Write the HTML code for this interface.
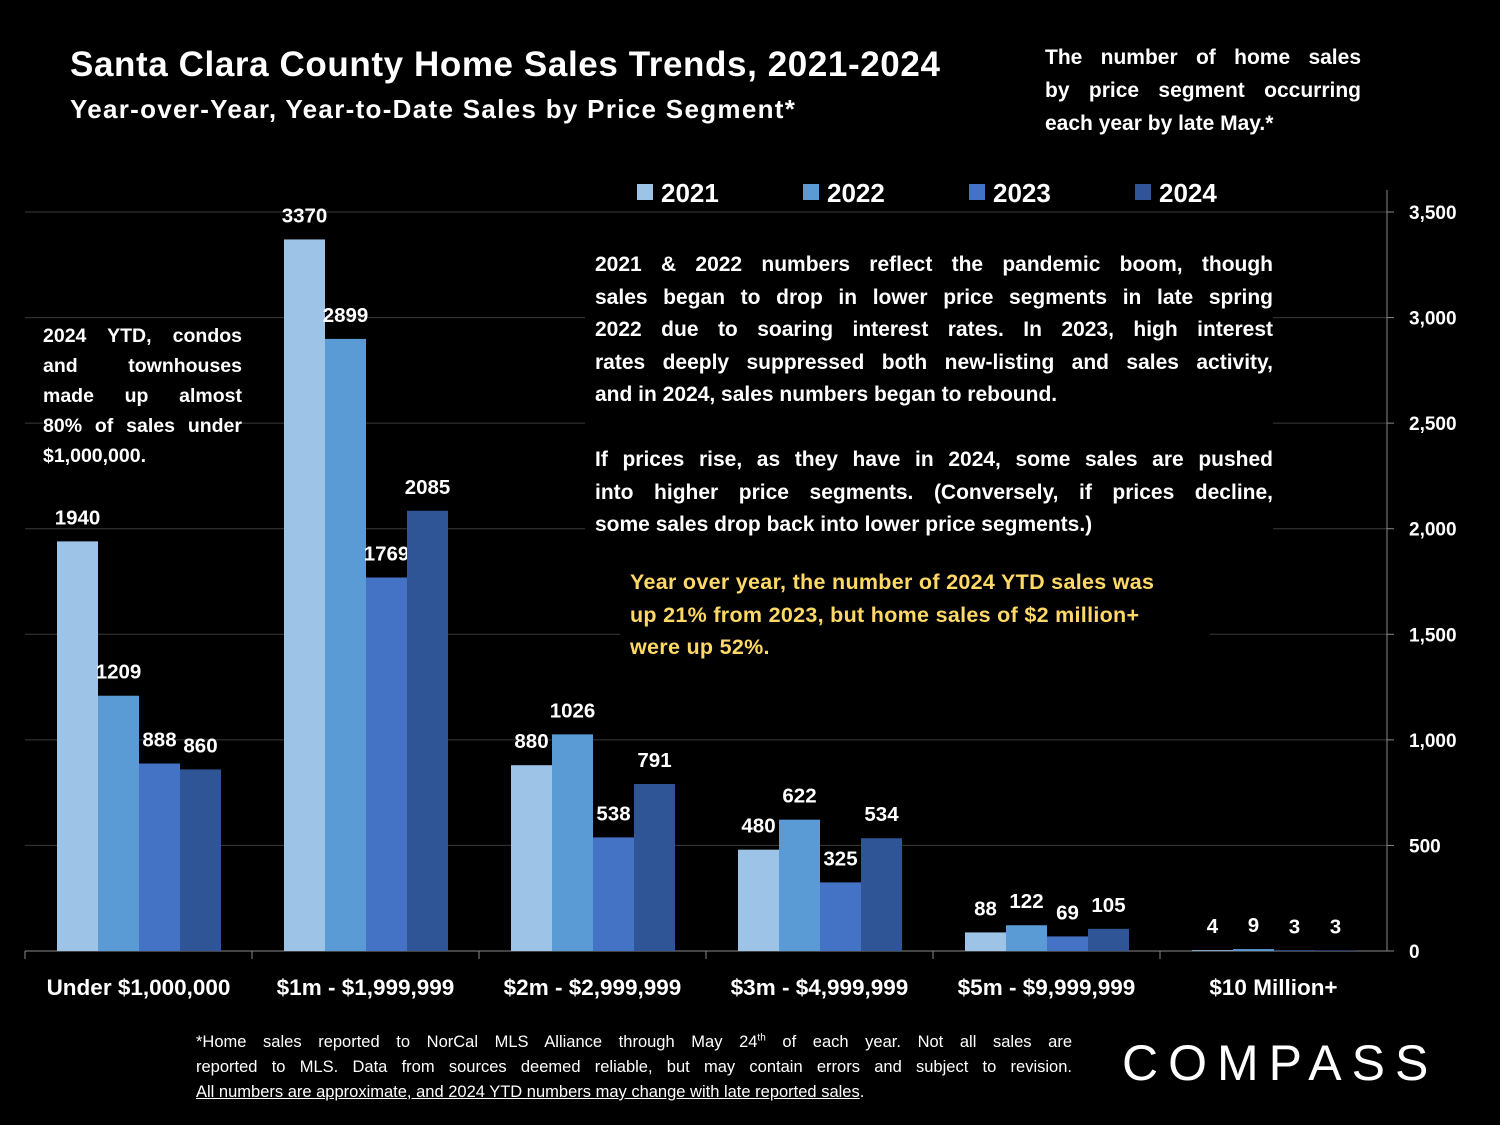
<!DOCTYPE html>
<html><head><meta charset="utf-8"><style>
body{margin:0;background:#000;width:1500px;height:1125px;overflow:hidden;font-family:"Liberation Sans",sans-serif;color:#fff;font-weight:bold}
.abs{position:absolute}
.box{background:#000}
.j div{text-align:justify;text-align-last:justify;white-space:nowrap}
.j div.l{text-align-last:left}
</style></head><body>
<div class="abs" style="left:70px;top:45px;font-size:35px;letter-spacing:0.6px">Santa Clara County Home Sales Trends, 2021-2024</div>
<div class="abs" style="left:70px;top:94px;font-size:26px;letter-spacing:1.3px">Year-over-Year, Year-to-Date Sales by Price Segment*</div>
<div class="abs box j" style="left:1045px;top:41px;width:316px;font-size:21px;line-height:33px"><div>The number of home sales</div><div>by price segment occurring</div><div class="l">each year by late May.*</div></div>
<svg class="abs" style="left:0;top:0" width="1500" height="1125" id="chart"></svg>
<div class="abs box j" style="left:43px;top:321px;width:199px;font-size:19.5px;line-height:30px"><div>2024 YTD, condos</div><div>and townhouses</div><div>made up almost</div><div>80% of sales under</div><div class="l">$1,000,000.</div></div>
<div class="abs box j" style="left:585px;top:249px;width:678px;padding:0 0 8px 10px;font-size:21px;line-height:32.5px"><div>2021 &amp; 2022 numbers reflect the pandemic boom, though</div><div>sales began to drop in lower price segments in late spring</div><div>2022 due to soaring interest rates. In 2023, high interest</div><div>rates deeply suppressed both new-listing and sales activity,</div><div class="l">and in 2024, sales numbers began to rebound.</div><div class="l">&nbsp;</div><div>If prices rise, as they have in 2024, some sales are pushed</div><div>into higher price segments. (Conversely, if prices decline,</div><div class="l">some sales drop back into lower price segments.)</div></div>
<div class="abs" style="left:620px;top:566px;width:580px;padding:0 0 10px 10px;background:#000;color:#ffd966;font-size:21.5px;letter-spacing:0.3px;line-height:32.5px;white-space:nowrap">Year over year, the number of 2024 YTD sales was<br>up 21% from 2023, but home sales of $2 million+<br>were up 52%.</div>
<div class="abs box j" style="left:196px;top:1030px;width:876px;font-size:16.5px;line-height:25px;font-weight:normal"><div>*Home sales reported to NorCal MLS Alliance through May 24<sup style="font-size:10px;line-height:0">th</sup> of each year. Not all sales are</div><div>reported to MLS. Data from sources deemed reliable, but may contain errors and subject to revision.</div><div class="l"><u>All numbers are approximate, and 2024 YTD numbers may change with late reported sales</u>.</div></div>
<div class="abs" style="left:1122px;top:1034px;font-size:50px;font-weight:normal;letter-spacing:10px">COMPASS</div>
<script>
const categories=["Under $1,000,000","$1m - $1,999,999","$2m - $2,999,999","$3m - $4,999,999","$5m - $9,999,999","$10 Million+"];
const years=["2021","2022","2023","2024"];
const s2021=[1940,3370,880,480,88,4];
const s2022=[1209,2899,1026,622,122,9];
const s2023=[888,1769,538,325,69,3];
const s2024=[860,2085,791,534,105,3];
const yTicks=[0,500,1000,1500,2000,2500,3000,3500];
const colors=["#9dc3e6","#5b9bd5","#4472c4","#2f5597"];
const NS="http://www.w3.org/2000/svg";
const svg=document.getElementById('chart');
const x0=25,x1=1387,y0=951,yTop=212,ymax=3500;
const y=v=>y0-(v/ymax)*(y0-yTop);
const gw=(x1-x0)/categories.length;
function mk(t,a,p){const e=document.createElementNS(NS,t);for(const k in a)e.setAttribute(k,a[k]);(p||svg).appendChild(e);return e;}
yTicks.forEach(t=>{
 if(t>0){const g=mk('line',{x1:x0,x2:x1,y1:y(t),y2:y(t),stroke:'#3a3a3a','stroke-width':1});
 
 }
 const tk=mk('line',{x1:x1,x2:x1+7,y1:y(t),y2:y(t),stroke:'#888'});
 
 
 const l=mk('text',{x:1409,y:y(t)+7,fill:'#fff','font-size':19,'font-weight':'bold','font-family':'Liberation Sans'});
 l.textContent=t.toLocaleString('en-US');
 
 
});
const ax=mk('line',{x1:x1,x2:x1,y1:y0,y2:190,stroke:'#888'});


const xa=mk('line',{x1:x0,x2:x1,y1:y0,y2:y0,stroke:'#888'});


const series=[s2021,s2022,s2023,s2024];
const bw=41;
categories.forEach((c,i)=>{
 const gx=x0+i*gw;
 const tk=mk('line',{x1:gx,x2:gx,y1:y0,y2:y0+8,stroke:'#888'});
 
 
 const lb=mk('text',{x:gx+gw/2,y:995,fill:'#fff','font-size':22.5,'font-weight':'bold','text-anchor':'middle','font-family':'Liberation Sans'});
 lb.textContent=c;
 
 
 series.forEach((s,j)=>{
  const bx=gx+32+j*bw;
  const r=mk('rect',{x:bx,y:y(s[i]),width:bw,height:y0-y(s[i]),fill:colors[j]});
  
  
  const v=mk('text',{x:bx+bw/2,y:y(s[i])-17,fill:'#fff','font-size':20.5,'font-weight':'bold','text-anchor':'middle','font-family':'Liberation Sans'});
  v.textContent=s[i];
  
  
 });
});
years.forEach((yr,j)=>{
 const lx=637+j*166;
 const sw=mk('rect',{x:lx,y:184,width:16,height:16,fill:colors[j]});
 
 
 const t=mk('text',{x:lx+24,y:202,fill:'#fff','font-size':26,'font-weight':'bold','font-family':'Liberation Sans'});
 t.textContent=yr;
 
 
});
</script>
</body></html>
